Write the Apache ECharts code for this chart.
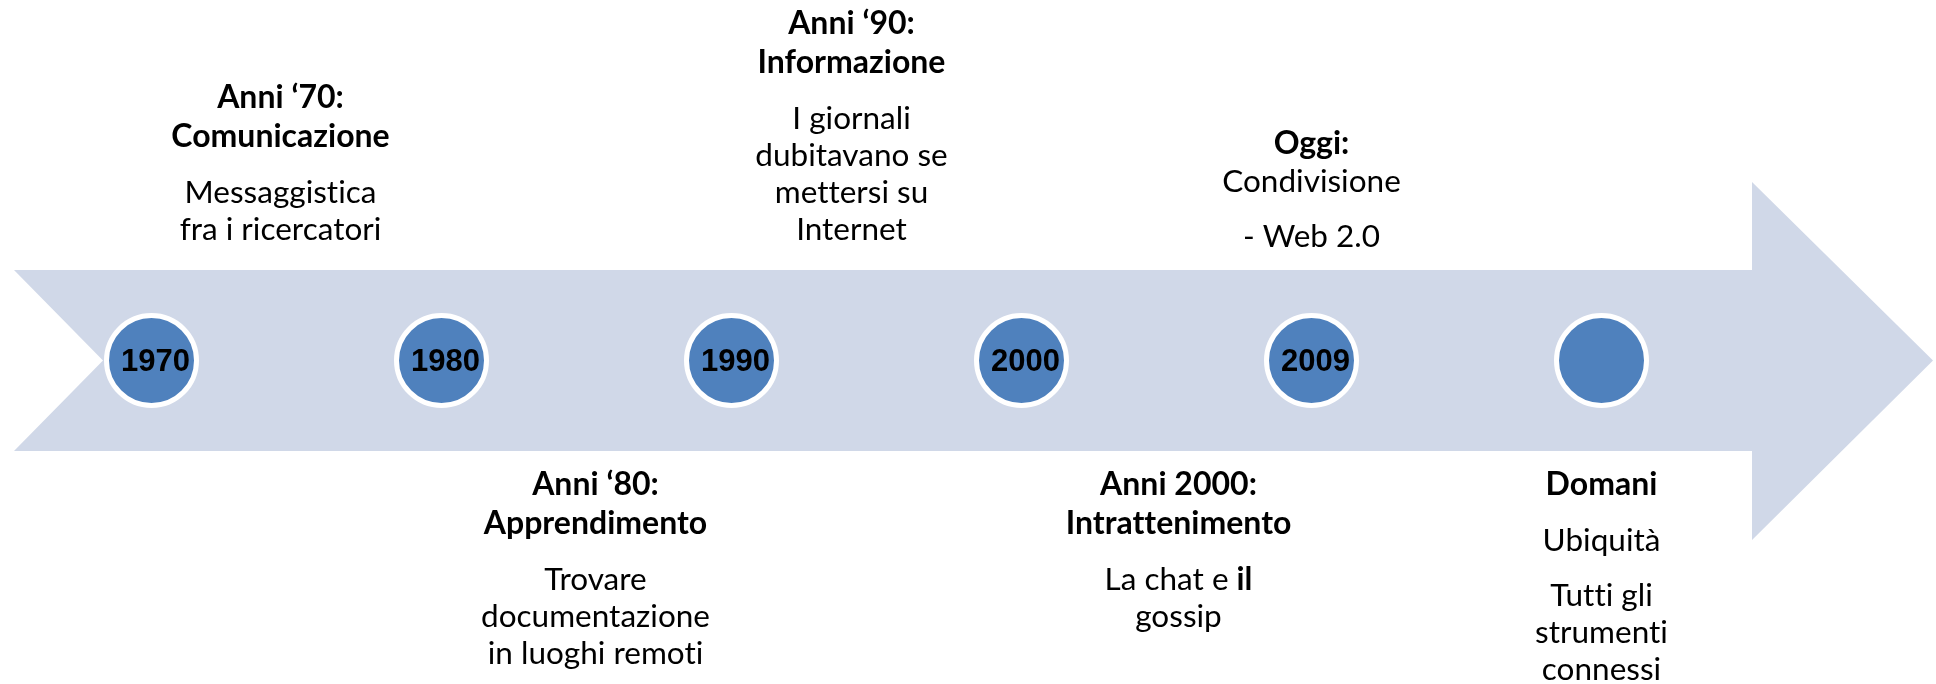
<!DOCTYPE html>
<html>
<head>
<meta charset="utf-8">
<script src="https://cdn.jsdelivr.net/npm/echarts@6/dist/echarts.min.js"></script>
<style>
html,body{margin:0;padding:0;background:#fff;}
#chart{width:1936px;height:684px;}
</style>
</head>
<body>
<div id="chart"></div>
<script>
// draw text without typographic ligatures (the original has none)
(function () {
  var proto = CanvasRenderingContext2D.prototype;
  var origFill = proto.fillText;
  proto.fillText = function () {
    try { this.textRendering = 'optimizeSpeed'; this.letterSpacing = '0.01px'; } catch (e) {}
    return origFill.apply(this, arguments);
  };
})();

// ---- data ----
var years = ['1970', '1980', '1990', '2000', '2009', ''];
var level = [0, 0, 0, 0, 0, 0];
var sides = ['top', 'bottom', 'top', 'bottom', 'top', 'bottom'];
var titles = [
  ['Anni \u201870:', 'Comunicazione'],
  ['Anni \u201880:', 'Apprendimento'],
  ['Anni \u201890:', 'Informazione'],
  ['Anni 2000:', 'Intrattenimento'],
  ['Oggi:'],
  ['Domani']
];
var bodies = [
  [['Messaggistica', 'fra i ricercatori']],
  [['Trovare', 'documentazione', 'in luoghi remoti']],
  [['I giornali', 'dubitavano se', 'mettersi su', 'Internet']],
  [['La chat e |il', 'gossip']],
  [['Condivisione'], ['- Web 2.0']],
  [['Ubiquit\u00e0'], ['Tutti gli', 'strumenti', 'connessi']]
];

// ---- layout ----
var labelShift = [129, 154, 120, 157, 0, 0];
var labelDistance = [112, 104, 112, 104, 105, 104];
var FONT = 'Lato';

function bodyLine(t) {
  var parts = t.split('|');
  if (parts.length === 1) return '{b|' + t + '}';
  return '{b|' + parts[0] + '}{hb|' + parts[1] + '}';
}

function blockText(i) {
  var lines = [];
  titles[i].forEach(function (t) { lines.push('{h|' + t + '}'); });
  bodies[i].forEach(function (para, k) {
    if (!(i === 4 && k === 0)) lines.push('{g| }');
    para.forEach(function (t) { lines.push(bodyLine(t)); });
  });
  return lines.join('\n');
}

var chart = echarts.init(document.getElementById('chart'), null, {renderer: 'canvas'});

var circleData = years.map(function (y, i) { return [y, level[i]]; });
var textData = years.map(function (y, i) {
  var top = sides[i] === 'top';
  return {
    value: [y, level[i]],
    label: {
      position: top ? 'top' : 'bottom',
      distance: labelDistance[i],
      offset: [labelShift[i], 0],
      formatter: blockText(i)
    }
  };
});

var rich = {
  h: {fontFamily: FONT, fontWeight: 'bold', fontSize: 32, lineHeight: 39, color: '#000'},
  hb: {fontFamily: FONT, fontWeight: 'bold', fontSize: 31.5, lineHeight: 37, color: '#000'},
  b: {fontFamily: FONT, fontWeight: 'normal', fontSize: 31.5, lineHeight: 37, color: '#000'},
  g: {fontSize: 1, lineHeight: 18}
};

chart.setOption({
  animation: false,
  backgroundColor: '#ffffff',
  grid: {left: 6.5, right: 189.5, top: 37, bottom: 0},
  xAxis: {type: 'category', data: years, boundaryGap: true, show: false},
  yAxis: {type: 'value', min: -1, max: 1, show: false},
  graphic: [{
    type: 'polygon',
    z: -10,
    silent: true,
    shape: {points: [[14, 270], [1752, 270], [1752, 182], [1933, 360.5], [1752, 540], [1752, 451], [14, 451], [103, 360.5]]},
    style: {fill: '#D0D8E8'}
  }],
  series: [{
    type: 'scatter',
    data: circleData,
    symbol: 'circle',
    symbolSize: 90,
    itemStyle: {color: '#4F81BD', borderColor: '#ffffff', borderWidth: 5, opacity: 1},
    label: {
      show: true, position: 'inside', offset: [4, 2],
      formatter: function (p) { return p.value[0]; },
      fontFamily: 'Liberation Sans', fontWeight: 'bold', fontSize: 31, color: '#000'
    },
    emphasis: {disabled: true},
    z: 3
  }, {
    type: 'scatter',
    data: textData,
    symbolSize: 1,
    itemStyle: {color: 'rgba(0,0,0,0)'},
    label: {show: true, align: 'center', rich: rich, color: '#000', opacity: 1},
    emphasis: {disabled: true},
    z: 4
  }]
});
</script>
</body>
</html>
